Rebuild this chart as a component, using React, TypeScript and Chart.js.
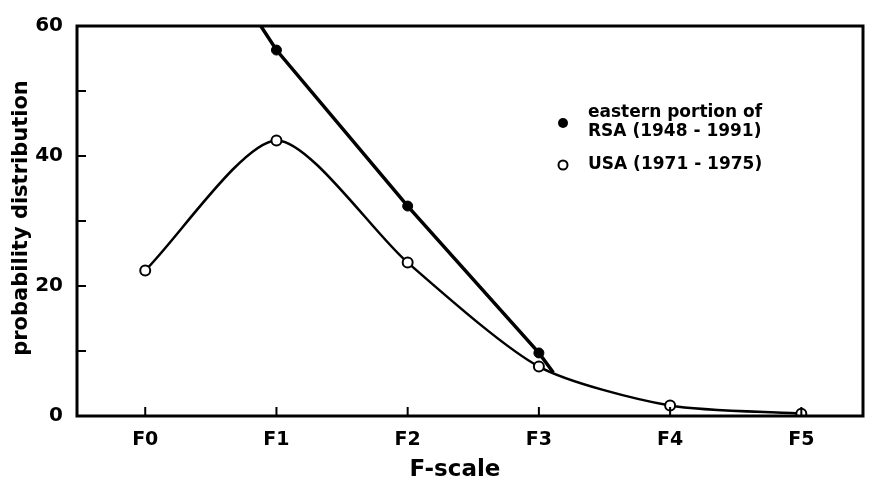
import React, { useEffect, useRef } from "react";
import { Chart, registerables } from "chart.js";

Chart.register(...registerables);

const fScaleX = [0, 1, 2, 3, 4, 5];
const fScaleLabels = ["F0", "F1", "F2", "F3", "F4", "F5"];
const usaValues = [22.4, 42.4, 23.6, 7.6, 1.6, 0.36];
const rsaX = [0.5, 1, 2, 3, 3.11];
const rsaValues = [71.8, 56.3, 32.3, 9.7, 6.7];
const rsaMarked = [false, true, true, true, false];
const yLabelled = [0, 20, 40, 60];
const yMinorTicks = [10, 20, 30, 40, 50];
const legendRsa = ["eastern portion of", "RSA (1948 - 1991)"];
const legendUsa = "USA (1971 - 1975)";
const xTitle = "F-scale";
const yTitle = "probability distribution";

const FONT = "'DejaVu Sans', 'Liberation Sans', sans-serif";

const decorPlugin = {
  id: "decor",
  afterDraw(chart: any) {
    const ctx = chart.ctx;
    const a = chart.chartArea;
    const xs = chart.scales.x;
    const ys = chart.scales.y;
    ctx.save();
    ctx.strokeStyle = "#000";
    ctx.lineWidth = 3;
    ctx.strokeRect(a.left, a.top, a.right - a.left, a.bottom - a.top);
    ctx.lineWidth = 2;
    ctx.beginPath();
    yMinorTicks.forEach((v) => {
      const py = ys.getPixelForValue(v);
      ctx.moveTo(a.left, py);
      ctx.lineTo(a.left + 9, py);
    });
    fScaleX.forEach((v) => {
      const px = xs.getPixelForValue(v);
      ctx.moveTo(px, a.bottom);
      ctx.lineTo(px, a.bottom - 9);
    });
    ctx.stroke();

    // axis titles
    ctx.fillStyle = "#000";
    ctx.font = `bold 23px ${FONT}`;
    ctx.textAlign = "center";
    ctx.textBaseline = "middle";
    ctx.fillText(xTitle, 455, 470);
    ctx.save();
    ctx.translate(22, 218);
    ctx.rotate(-Math.PI / 2);
    ctx.font = `bold 21px ${FONT}`;
    ctx.fillText(yTitle, 0, 0);
    ctx.restore();

    // legend
    ctx.beginPath();
    ctx.arc(563, 123, 5, 0, Math.PI * 2);
    ctx.fillStyle = "#000";
    ctx.fill();
    ctx.beginPath();
    ctx.arc(563, 165, 4.5, 0, Math.PI * 2);
    ctx.fillStyle = "#fff";
    ctx.fill();
    ctx.lineWidth = 2;
    ctx.stroke();
    ctx.fillStyle = "#000";
    ctx.font = `bold 17px ${FONT}`;
    ctx.textAlign = "left";
    ctx.fillText(legendRsa[0], 588, 113);
    ctx.fillText(legendRsa[1], 588, 132);
    ctx.fillText(legendUsa, 588, 165);
    ctx.restore();
  },
};

export default function App() {
  const ref = useRef<HTMLCanvasElement>(null);
  useEffect(() => {
    if (!ref.current) return;
    const chart = new Chart(ref.current, {
      type: "line",
      data: {
        datasets: [
          {
            label: "USA (1971 - 1975)",
            data: fScaleX.map((x, i) => ({ x, y: usaValues[i] })),
            borderColor: "#000",
            borderWidth: 2.5,
            tension: 0.25,
            pointRadius: 5,
            pointBackgroundColor: "#fff",
            pointBorderColor: "#000",
            pointBorderWidth: 2,
          },
          {
            label: "eastern portion of RSA (1948 - 1991)",
            data: rsaX.map((x, i) => ({ x, y: rsaValues[i] })),
            borderColor: "#000",
            borderWidth: 3.5,
            tension: 0,
            pointRadius: rsaMarked.map((m) => (m ? 5 : 0)),
            pointBackgroundColor: "#000",
            pointBorderColor: "#000",
            pointBorderWidth: 1,
          },
        ],
      },
      options: {
        responsive: true,
        maintainAspectRatio: false,
        animation: false,
        events: [],
        layout: { padding: { top: 15, right: 3, left: 0, bottom: 0 } },
        plugins: { legend: { display: false }, tooltip: { enabled: false } },
        scales: {
          x: {
            type: "linear",
            min: -0.52,
            max: 5.47,
            afterBuildTicks: (s: any) => {
              s.ticks = fScaleX.map((v) => ({ value: v }));
            },
            afterFit: (s: any) => {
              s.height = 73;
            },
            grid: { display: false, drawTicks: false },
            border: { display: false },
            ticks: {
              padding: 13,
              color: "#000",
              font: { family: FONT, size: 19, weight: "bold" },
              maxRotation: 0,
              callback: (v: any) => fScaleLabels[fScaleX.indexOf(Number(v))] ?? "",
            },
          },
          y: {
            type: "linear",
            min: 0,
            max: 60,
            afterBuildTicks: (s: any) => {
              s.ticks = yLabelled.map((v) => ({ value: v }));
            },
            afterFit: (s: any) => {
              s.width = 77;
            },
            grid: { display: false, drawTicks: false },
            border: { display: false },
            ticks: {
              padding: 14,
              color: "#000",
              font: { family: FONT, size: 20, weight: "bold" },
              callback: (v: any) => String(v),
            },
          },
        },
      },
      plugins: [decorPlugin],
    } as any);
    return () => chart.destroy();
  }, []);
  return (
    <div style={{ position: "fixed", left: 0, top: 0, width: 870, height: 489, background: "#fff" }}>
      <canvas ref={ref} />
    </div>
  );
}
